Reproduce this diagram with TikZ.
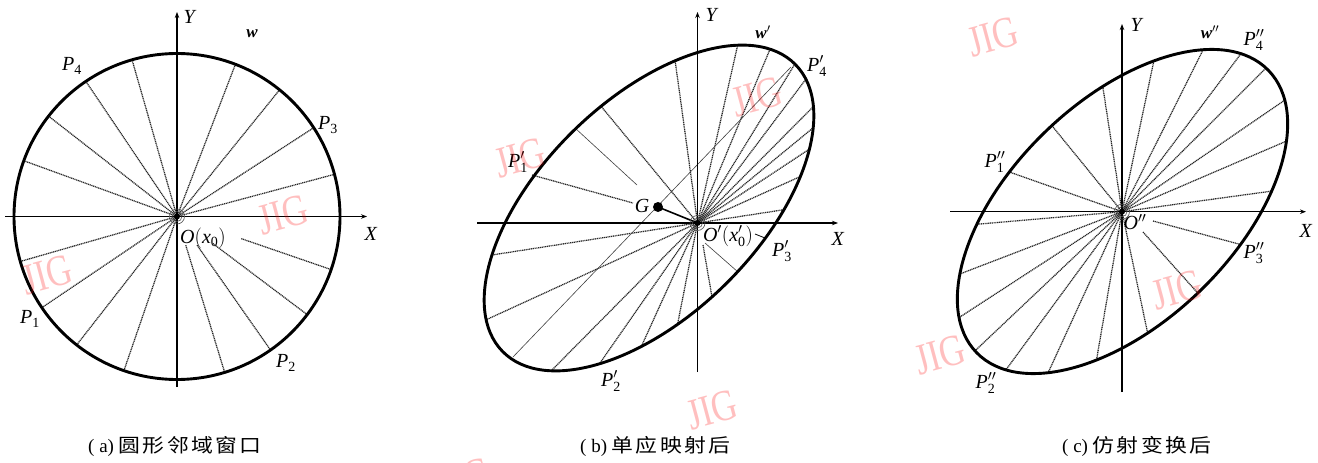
\documentclass[tikz,border=0pt]{standalone}
\usepackage{fontspec}
\setmainfont{Liberation Serif}
\newfontfamily\cjk[FakeStretch=1.15,LetterSpace=12]{Noto Sans CJK SC}
\newfontfamily\wmfont[FakeStretch=0.8]{Liberation Serif}
\usetikzlibrary{calc,arrows.meta}
\begin{document}
\begin{tikzpicture}[x=1pt,y=-1pt,
  rim/.style={line width=2.9pt},
  axis/.style={line width=1.5pt,-{Stealth[length=6pt,width=4.5pt]}},
  ray/.style={line width=1.25pt,black!85,dash pattern=on 1.1pt off 0.7pt},
  thinline/.style={line width=0.6pt,black!75},
  lab/.style={font=\fontsize{20}{23}\selectfont, inner sep=0pt},
  wlab/.style={font=\fontsize{17}{20}\selectfont\bfseries\itshape, inner sep=0pt},
  wm/.style={font=\wmfont\fontsize{44}{48}\selectfont, text=red, opacity=0.25, rotate=15, inner sep=0pt},
  captext/.style={font=\fontsize{19}{22}\selectfont, anchor=west, inner sep=0pt}]

\useasboundingbox (0,0) rectangle (1318,463);
\fill[white] (0,0) rectangle (1318,463);

% ---------------- panel (a) ----------------
\coordinate (Oa) at (177,216.5);
\foreach \ang in {15,33,51,69,106,124,142,160,196,214,232,251}
  \draw[ray] (Oa) -- ($(Oa)+(-\ang:162)$);
\foreach \ang/\r in {287/30,305/35,323/45,341/68}
  \draw[ray] ($(Oa)+(-\ang:\r)$) -- ($(Oa)+(-\ang:162)$);
\draw[rim] (Oa) circle[radius=163];
\draw[axis] (177,387) -- (177,12);
\draw[axis] (5,216.5) -- (367,216.5);
\fill (Oa) circle[radius=3];
\foreach \r in {5,7.5} \draw[black!70,line width=0.6pt] (Oa) circle[radius=\r];
\node[lab] (Ya) at (190,17) {\textit{Y}};
\node[lab] (Xa) at (371,234) {\textit{X}};
\node[wlab] (wa) at (252,34) {w};
\node[lab] (P4a) at (72,66) {$\mathit{P}_{\mathrm{4}}$};
\node[lab] (P3a) at (328,125) {$\mathit{P}_{\mathrm{3}}$};
\node[lab] (P1a) at (30,319) {$\mathit{P}_{\mathrm{1}}$};
\node[lab] (P2a) at (286,363) {$\mathit{P}_{\mathrm{2}}$};
\node[lab] (Oal) at (203,238) {$\mathit{O}\mathrm{(}\mathit{x}_{\mathrm{0}}\mathrm{)}$};

% ---------------- panel (b) ----------------
\coordinate (Ob) at (697.5,223);
\coordinate (Cb) at (649,208);
\begin{scope}
  \clip[rotate around={44.4:(Cb)}] (Cb) ellipse[x radius=205,y radius=108];
  \foreach \x/\y in {600/105,675/60,737/48,768/54,790/72,803/83,808/112,808/132,805/152,797/178,782/210,
                     492/255,490/318,552/370,600/363,642/345,678/322}
    \draw[ray] (Ob) -- ($(Ob)!1.25!(\x,\y)$);
\end{scope}
\draw[ray] (532,175) -- (633,203);
\draw[ray] (703,245) -- (712,297);
\draw[thinline] (513,357) -- (791,67);
\draw[thinline] (575,128) -- (637,185);
\draw[thinline] (705,243) -- (738,272);
\draw[line width=0.8pt] (755,234) -- (765,238);
\draw[rim,rotate around={44.4:(Cb)}] (Cb) ellipse[x radius=205,y radius=108];
\draw[axis] (697.5,372) -- (697.5,12);
\draw[axis] (477,223) -- (838,223);
\coordinate (Gb) at (658,207);
\draw[line width=1.6pt] (Gb) -- (Ob);
\fill (Gb) circle[radius=5];
\fill (Ob) circle[radius=3];
\foreach \r in {5,7.5} \draw[black!70,line width=0.6pt] (Ob) circle[radius=\r];
\node[lab] (Yb) at (712,15) {\textit{Y}};
\node[lab] (Xb) at (838,239) {\textit{X}};
\node[wlab] (wb) at (763,32) {w$^{\prime}$};
\node[lab] (P4b) at (817,66) {$\mathit{P}^{\prime}_{\mathrm{4}}$};
\node[lab] (P1b) at (518,162) {$\mathit{P}^{\prime}_{\mathrm{1}}$};
\node[lab] (Gl) at (642,206) {$\mathit{G}$};
\node[lab] (Obl) at (728,236) {$\mathit{O}^{\prime}\mathrm{(}\mathit{x}^{\prime}_{\mathrm{0}}\mathrm{)}$};
\node[lab] (P3b) at (782,251) {$\mathit{P}^{\prime}_{\mathrm{3}}$};
\node[lab] (P2b) at (611,381) {$\mathit{P}^{\prime}_{\mathrm{2}}$};

% ---------------- panel (c) ----------------
\coordinate (Oc) at (1122,211.7);
\coordinate (Cc) at (1122.5,211.5);
\begin{scope}
  \clip[rotate around={44:(Cc)}] (Cc) ellipse[x radius=203,y radius=111];
  \foreach \x/\y in {1015/174,1053/127,1103/88,1153/65,1202/52,1240/55,1262/72,1282/102,1282/143,1265/192,
                     980/224,965/272,963/315,978/348,1008/367,1048/373,1097/357,1147/330}
    \draw[ray] (Oc) -- ($(Oc)!1.25!(\x,\y)$);
  \draw[ray] (1143,232) -- ($(1143,232)!1.3!(1195,290)$);
  \draw[ray] (1153,221) -- ($(1153,221)!1.3!(1235,243)$);
\end{scope}
\draw[rim,rotate around={44:(Cc)}] (Cc) ellipse[x radius=203,y radius=111];
\draw[axis] (1122,392) -- (1122,24);
\draw[axis] (950,211.7) -- (1306,211.7);
\fill (Oc) circle[radius=3];
\foreach \r in {5,7.5} \draw[black!70,line width=0.6pt] (Oc) circle[radius=\r];
\node[lab] (Yc) at (1137,25) {\textit{Y}};
\node[lab] (Xc) at (1306,231) {\textit{X}};
\node[wlab] (wc) at (1210,32) {w$^{\prime\prime}$};
\node[lab] (P4c) at (1254,40) {$\mathit{P}^{\prime\prime}_{\mathrm{4}}$};
\node[lab] (P1c) at (995,162) {$\mathit{P}^{\prime\prime}_{\mathrm{1}}$};
\node[lab] (Ocl) at (1135,222) {$\mathit{O}^{\prime\prime}$};
\node[lab] (P3c) at (1254,253) {$\mathit{P}^{\prime\prime}_{\mathrm{3}}$};
\node[lab] (P2c) at (986,383) {$\mathit{P}^{\prime\prime}_{\mathrm{2}}$};

% ---------------- captions ----------------
\node[captext] (capa) at (88,446) {( a)\ {\cjk 圆形邻域窗口}};
\node[captext] (capb) at (580,446) {( b)\ {\cjk 单应映射后}};
\node[captext] (capc) at (1062,446) {( c)\ {\cjk 仿射变换后}};

% ---------------- watermarks ----------------
\node[wm] (wm1) at (283,215) {JIG};
\node[wm] (wm2) at (47,275) {JIG};
\node[wm] (wm3) at (757,97) {JIG};
\node[wm] (wm4) at (520,158) {JIG};
\node[wm] (wm5) at (712,410) {JIG};
\node[wm] (wm6) at (465,478) {JIG};
\node[wm] (wm7) at (993,37) {JIG};
\node[wm] (wm8) at (1177,290) {JIG};
\node[wm] (wm9) at (940,355) {JIG};
\end{tikzpicture}
\end{document}
